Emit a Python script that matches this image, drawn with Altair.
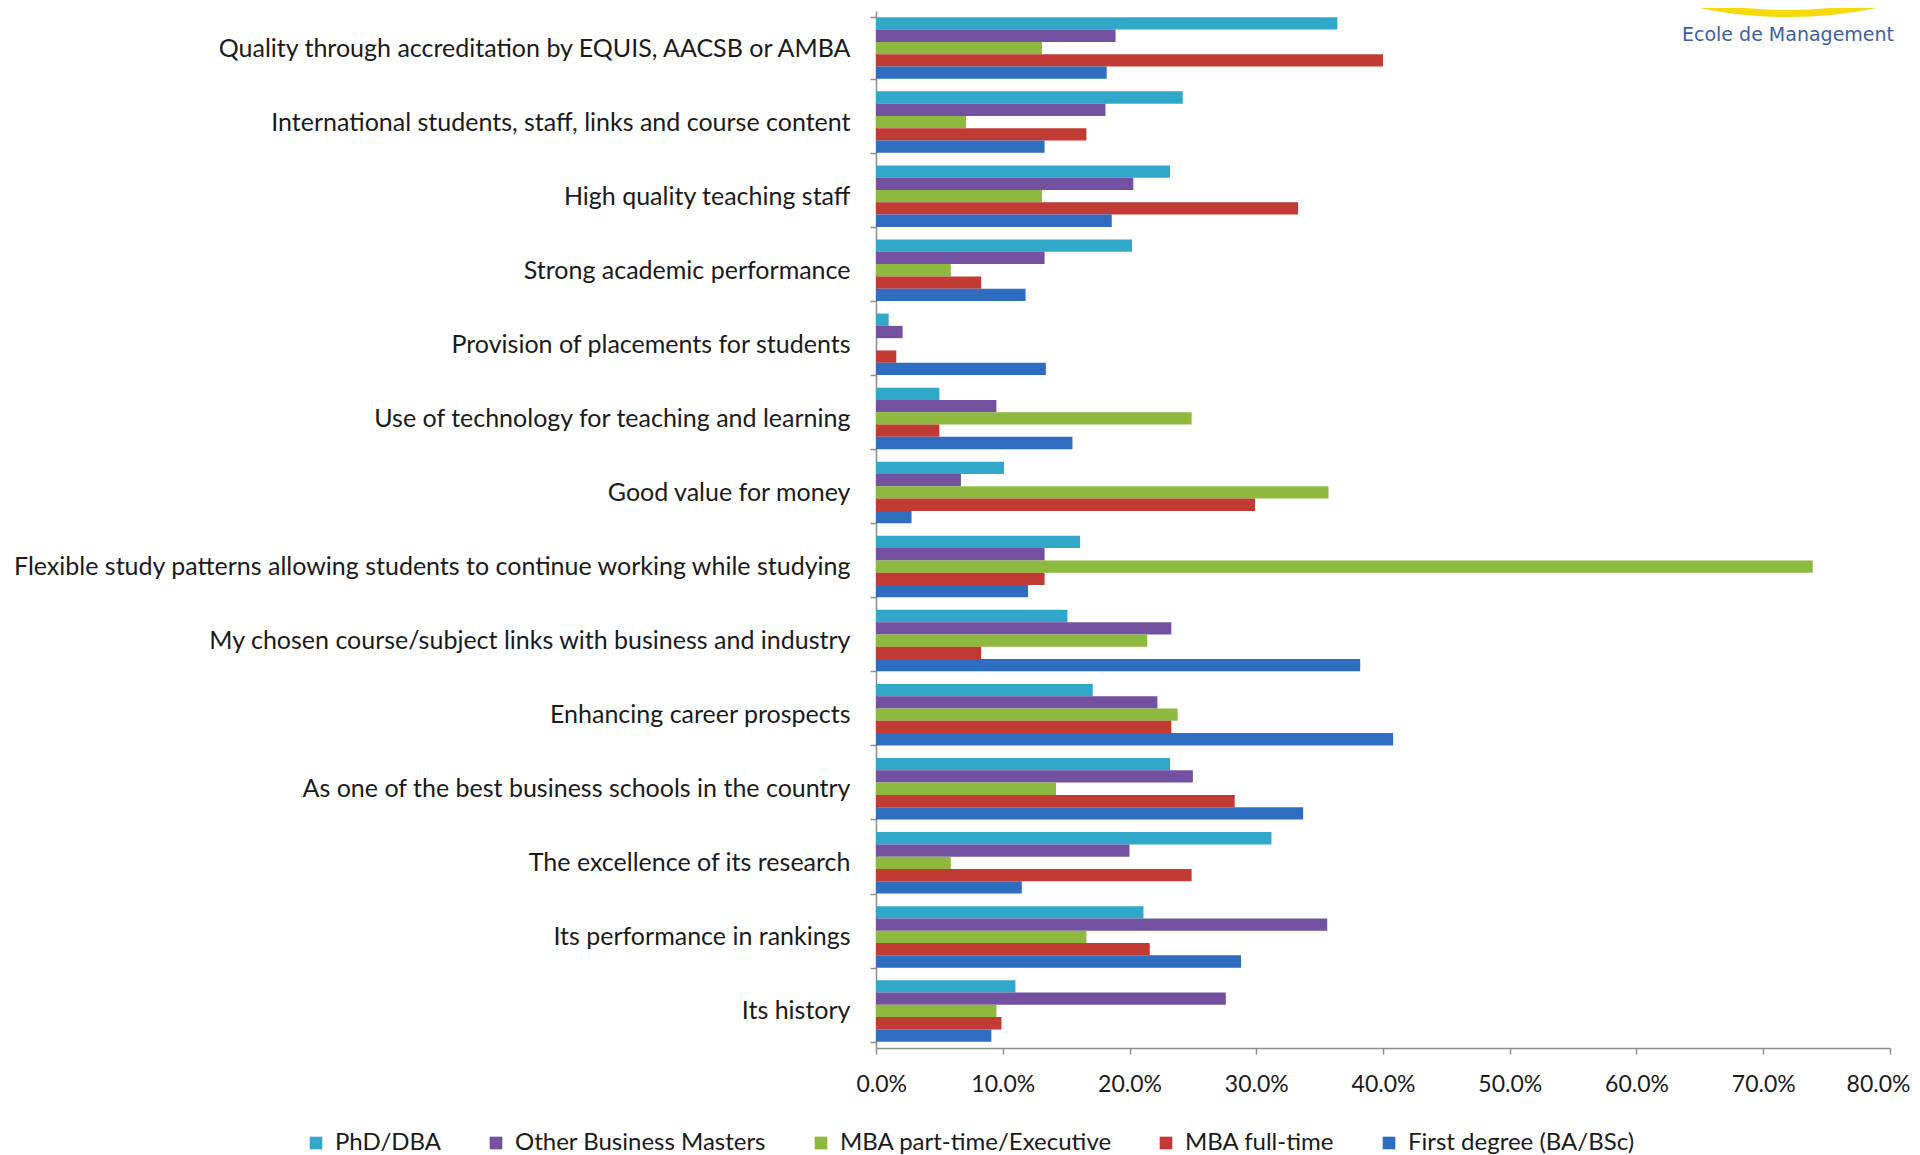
import altair as alt
import pandas as pd

categories = [
    "Quality through accreditation by EQUIS, AACSB or AMBA",
    "International students, staff, links and course content",
    "High quality teaching staff",
    "Strong academic performance",
    "Provision of placements for students",
    "Use of technology for teaching and learning",
    "Good value for money",
    "Flexible study patterns allowing students to continue working while studying",
    "My chosen course/subject links with business and industry",
    "Enhancing career prospects",
    "As one of the best business schools in the country",
    "The excellence of its research",
    "Its performance in rankings",
    "Its history",
]
series = ["PhD/DBA", "Other Business Masters", "MBA part-time/Executive", "MBA full-time", "First degree (BA/BSc)"]
colors = ["#31a8c9", "#7350a0", "#8db93e", "#c23a34", "#2e6dbf"]

phd = [36.4, 24.2, 23.2, 20.2, 1.0, 5.0, 10.1, 16.1, 15.1, 17.1, 23.2, 31.2, 21.1, 11.0]
other = [18.9, 18.1, 20.3, 13.3, 2.1, 9.5, 6.7, 13.3, 23.3, 22.2, 25.0, 20.0, 35.6, 27.6]
mba_pt = [13.1, 7.1, 13.1, 5.9, 0.0, 24.9, 35.7, 73.9, 21.4, 23.8, 14.2, 5.9, 16.6, 9.5]
mba_ft = [40.0, 16.6, 33.3, 8.3, 1.6, 5.0, 29.9, 13.3, 8.3, 23.3, 28.3, 24.9, 21.6, 9.9]
first = [18.2, 13.3, 18.6, 11.8, 13.4, 15.5, 2.8, 12.0, 38.2, 40.8, 33.7, 11.5, 28.8, 9.1]

x_ticks = [0.0, 0.1, 0.2, 0.3, 0.4, 0.5, 0.6, 0.7, 0.8]
logo_text = ["Ecole de Management"]

rows = []
for s, vals in zip(series, [phd, other, mba_pt, mba_ft, first]):
    for c, v in zip(categories, vals):
        rows.append({"category": c, "series": s, "value": v / 100.0})
df = pd.DataFrame(rows)

FONT = "Lato"

bars = alt.Chart(df).mark_bar(height={"band": 1}).encode(
    x=alt.X("value:Q",
            scale=alt.Scale(domain=[0, 0.8], nice=False, zero=True),
            axis=alt.Axis(values=x_ticks, format=".1%", title=None, grid=False,
                          labelFlush=True, labelFlushOffset=20, labelOverlap=False,
                          labelFontSize=23, labelFont=FONT, labelColor="#1a1a1a",
                          domainColor="#8c8c8c", tickColor="#8c8c8c", tickSize=6,
                          labelPadding=19, domainWidth=1.5, tickWidth=1.5)),
    y=alt.Y("category:N", sort=categories,
            scale=alt.Scale(paddingInner=0.17, paddingOuter=0.085),
            axis=alt.Axis(title=None, labelFontSize=25, labelFont=FONT, labelColor="#1a1a1a",
                          labelLimit=900, tickBand="extent", domainColor="#8c8c8c",
                          tickColor="#8c8c8c", tickSize=6, labelPadding=20,
                          domainWidth=1.5, tickWidth=1.5)),
    yOffset=alt.YOffset("series:N", sort=series),
    color=alt.Color("series:N", sort=series,
                    scale=alt.Scale(domain=series, range=colors),
                    legend=alt.Legend(title=None, orient="none", direction="horizontal",
                                      legendX=-572, legendY=1120, columns=5,
                                      symbolType="square", symbolSize=160,
                                      symbolStrokeWidth=0, labelFontSize=24,
                                      labelFont=FONT, labelColor="#1a1a1a", labelLimit=500,
                                      columnPadding=42, labelOffset=7, padding=0)),
)

logo = alt.Chart(pd.DataFrame({"t": logo_text})).mark_text(
    font="DejaVu Sans", fontSize=19, color="#3d5ea8", align="center", baseline="middle"
).encode(x=alt.value(912), y=alt.value(24), text="t:N")

swoosh = alt.Chart(pd.DataFrame({"t": logo_text})).mark_arc(
    color="#f5d90a", innerRadius=437, outerRadius=444, theta=2.93, theta2=3.36
).encode(x=alt.value(912), y=alt.value(-438))

chart = alt.layer(bars, logo, swoosh).properties(
    width=1014, height=1037,
    autosize=alt.AutoSizeParams(type="none"),
    padding={"left": 868, "top": 3, "right": 22, "bottom": 110},
).configure_view(stroke=None)

chart.save("out.html", embed_options={"renderer": "svg", "actions": False})
